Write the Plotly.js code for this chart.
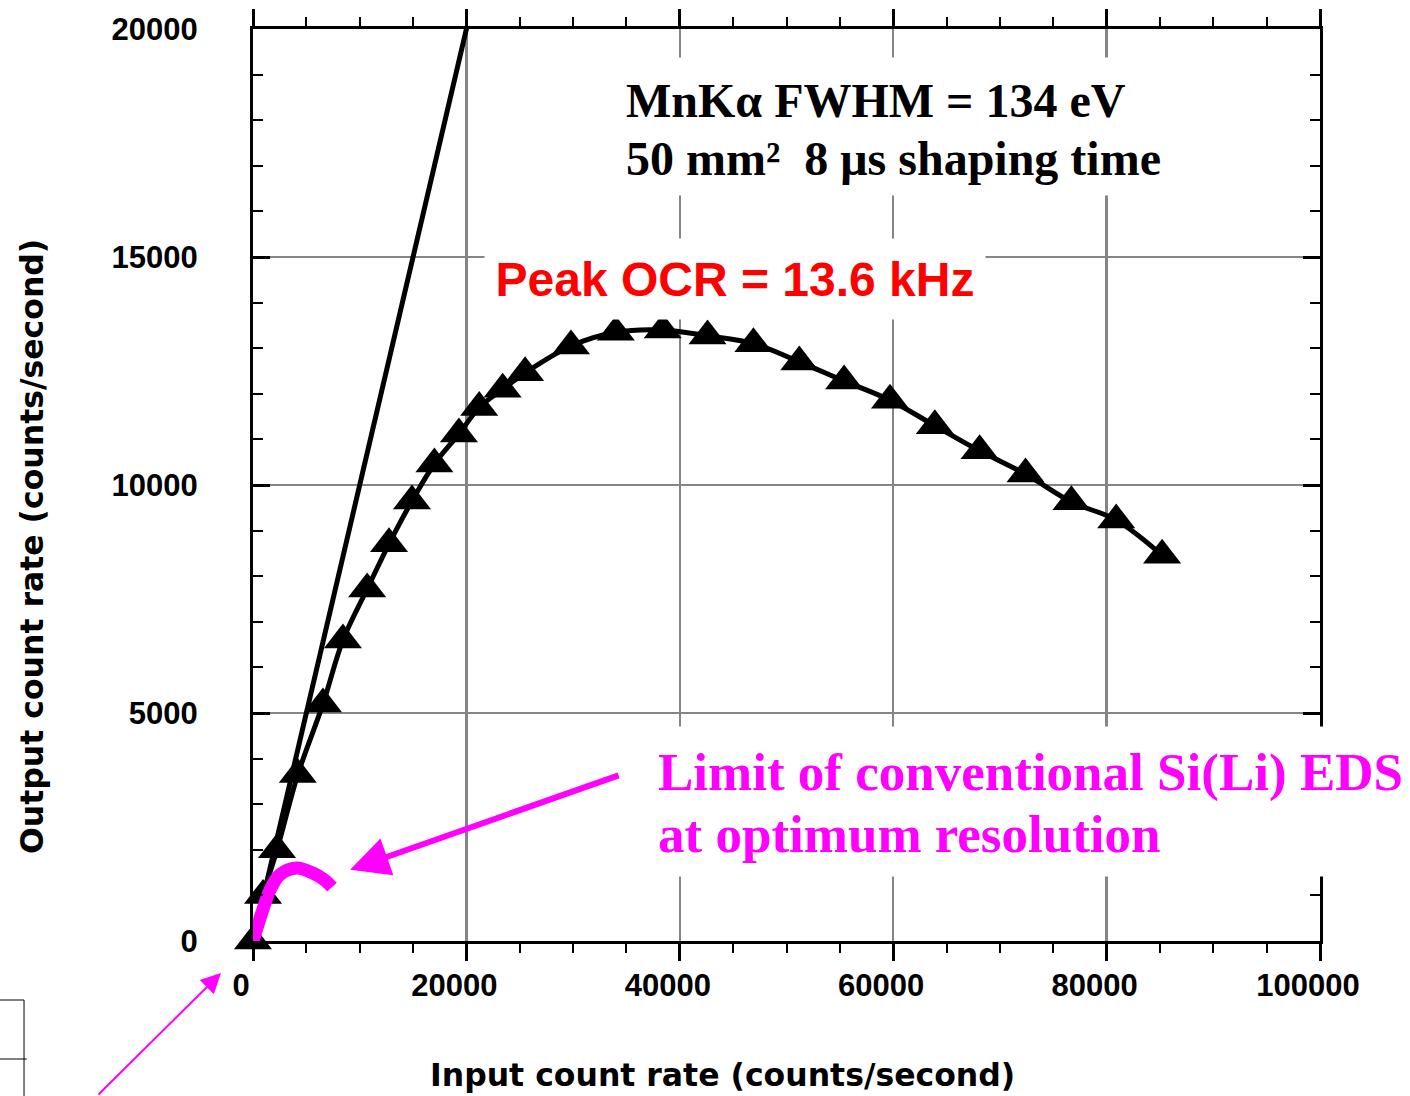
<!DOCTYPE html>
<html>
<head>
<meta charset="utf-8">
<script src="https://cdn.plot.ly/plotly-3.0.1.min.js"></script>
<style>html,body{margin:0;padding:0;background:#fff;}</style>
</head>
<body>
<div id="chart" style="width:1410px;height:1096px;"></div>
<script>
// Measured output vs input count rate (triangles)
const icr = [0, 940, 2250, 4200, 6560, 8430, 10700, 12750, 14900, 17000, 19300, 21200, 23400, 25500, 29800, 34000, 38400, 42600, 46900, 51200, 55400, 59700, 63900, 68100, 72400, 76700, 80900, 85200];
const ocr = [0, 1000, 2000, 3650, 5200, 6600, 7720, 8710, 9650, 10460, 11120, 11700, 12100, 12460, 13050, 13350, 13400, 13270, 13100, 12700, 12280, 11860, 11300, 10750, 10240, 9630, 9230, 8460];
// Ideal line OCR = ICR
const idealX = [0, 20400];
const idealY = [0, 20400];
// Limit of conventional Si(Li) EDS
const limitX = [0, 800, 1600, 2500, 4100, 5600, 6700, 7400];
const limitY = [0, 600, 1120, 1450, 1600, 1490, 1340, 1180];
// Axis ticks
const xTicks = [0, 20000, 40000, 60000, 80000, 100000];
const yTicks = [0, 5000, 10000, 15000, 20000];
// Axis titles
const xTitle = 'Input count rate (counts/second)';
const yTitle = 'Output count rate (counts/second)';

const sansB = {family: 'Liberation Sans, Arial, sans-serif', weight: 'bold', color: '#000'};
const serifB = {family: 'Liberation Serif, Times New Roman, serif', weight: 'bold'};
const titleFont = {family: 'DejaVu Sans', weight: 'bold', size: 31.5, color: '#000'};
const nb = '\u00a0';

const traces = [
  {x: idealX, y: idealY, type: 'scatter', mode: 'lines', line: {color: '#000', width: 5}, hoverinfo: 'skip', showlegend: false},
  {x: icr, y: ocr, type: 'scatter', mode: 'lines+markers', line: {color: '#000', width: 5, shape: 'spline'},
   marker: {symbol: 'triangle-up', size: 33, color: '#000'}, cliponaxis: false, showlegend: false},
  {x: limitX, y: limitY, type: 'scatter', mode: 'lines', line: {color: '#ff00ff', width: 13, shape: 'spline'}, showlegend: false}
];

const tickCommon = {tickwidth: 3, tickcolor: '#000'};
const gridCommon = {showgrid: true, gridcolor: '#858585', gridwidth: 2.5, griddash: 'solid', zeroline: false};
const layout = {
  width: 1410, height: 1096,
  margin: {l: 253, r: 90, t: 29, b: 155},
  paper_bgcolor: '#fff', plot_bgcolor: '#fff',
  showlegend: false,
  xaxis: Object.assign({
    range: [0, 100000], tickvals: xTicks, ticktext: xTicks.map(String),
    ticks: 'outside', ticklen: 17, showline: true, linewidth: 3, linecolor: '#000', mirror: 'allticks',
    minor: {dtick: 5000, tick0: 0, ticks: 'outside', ticklen: 9, tickwidth: 2, tickcolor: '#000', showgrid: false},
    tickfont: Object.assign({size: 31}, sansB), ticklabelshift: -12, ticklabelstandoff: -2,
    title: {text: ''}
  }, tickCommon, gridCommon),
  xaxis2: Object.assign({
    overlaying: 'x', anchor: 'y', side: 'bottom', range: [0, 100000], tickvals: xTicks,
    ticks: 'inside', ticklen: 17, mirror: 'ticks', showline: false, showgrid: false, zeroline: false, showticklabels: false
  }, tickCommon),
  yaxis: Object.assign({
    range: [0, 20000], tickvals: yTicks, ticktext: yTicks.map(String),
    ticks: 'inside', ticklen: 17, showline: true, linewidth: 3, linecolor: '#000', mirror: 'allticks',
    minor: {dtick: 1000, tick0: 0, ticks: 'inside', ticklen: 10, tickwidth: 2, tickcolor: '#000', showgrid: false},
    tickfont: Object.assign({size: 31}, sansB), ticklabelstandoff: 46,
    title: {text: ''}
  }, tickCommon, gridCommon),
  yaxis2: Object.assign({
    overlaying: 'y', anchor: 'x', side: 'left', range: [0, 20000], tickvals: yTicks,
    ticks: 'outside', ticklen: 18, mirror: 'ticks', showline: false, showgrid: false, zeroline: false, showticklabels: false
  }, tickCommon),
  annotations: [
    // axis titles
    {xref: 'paper', yref: 'paper', x: 0.4396, y: -0.1469, xanchor: 'center', yanchor: 'middle', showarrow: false,
     text: xTitle, font: titleFont},
    {xref: 'paper', yref: 'paper', x: -0.2071, y: 0.4320, xanchor: 'center', yanchor: 'middle', showarrow: false,
     textangle: -90, text: yTitle, font: titleFont},
    // white box behind MnKa text
    {xref: 'paper', yref: 'paper', x: 0.3346, y: 0.8931, xanchor: 'left', yanchor: 'middle', text: nb, showarrow: false,
     width: 575, height: 137, borderpad: 0, bgcolor: '#fff'},
    {xref: 'paper', yref: 'paper', x: 0.3486, y: 0.9213, xanchor: 'left', yanchor: 'middle', showarrow: false, borderpad: 0,
     text: 'MnK\u03b1 FWHM = 134 eV', font: Object.assign({size: 48, color: '#000'}, serifB)},
    {xref: 'paper', yref: 'paper', x: 0.3486, y: 0.8577, xanchor: 'left', yanchor: 'middle', showarrow: false, borderpad: 0,
     text: '50 mm\u00b2' + nb + nb + '8 \u03bcs shaping time', font: Object.assign({size: 48, color: '#000'}, serifB)},
    // Peak OCR
    {xref: 'paper', yref: 'paper', x: 0.4517, y: 0.7259, xanchor: 'center', yanchor: 'middle', showarrow: false, borderpad: 0,
     width: 500, height: 80, bgcolor: '#fff',
     text: 'Peak OCR = 13.6 kHz', font: {family: 'Liberation Sans, Arial, sans-serif', weight: 'bold', size: 48, color: '#ff0000'}},
    // Limit box + text
    {xref: 'paper', yref: 'paper', x: 0.3674, y: 0.1530, xanchor: 'left', yanchor: 'middle', text: nb, showarrow: false,
     width: 765, height: 149, borderpad: 0, bgcolor: '#fff'},
    {xref: 'paper', yref: 'paper', x: 0.3786, y: 0.1852, xanchor: 'left', yanchor: 'middle', showarrow: false, borderpad: 0,
     text: 'Limit of conventional Si(Li) EDS', font: Object.assign({size: 53, color: '#ff00ff'}, serifB)},
    {xref: 'paper', yref: 'paper', x: 0.3786, y: 0.1172, xanchor: 'left', yanchor: 'middle', showarrow: false, borderpad: 0,
     text: 'at optimum resolution', font: Object.assign({size: 53, color: '#ff00ff'}, serifB)},
    // arrows
    {xref: 'x', yref: 'y', x: 9100, y: 1560, ax: 270, ay: -95, text: '', showarrow: true,
     arrowhead: 2, arrowsize: 1.3, arrowwidth: 6, arrowcolor: '#ff00ff', standoff: 0},
    {xref: 'paper', yref: 'paper', x: -0.030, y: -0.0351, ax: -124, ay: 127, text: '', showarrow: true,
     arrowhead: 2, arrowsize: 2, arrowwidth: 2, arrowcolor: '#ff00ff', standoff: 0}
  ],
  shapes: [
    {type: 'line', xref: 'paper', yref: 'paper', x0: -0.2146, x1: -0.2146, y0: -0.0647, y1: -0.175, line: {color: '#000', width: 1}},
    {type: 'line', xref: 'paper', yref: 'paper', x0: -0.2371, x1: -0.2146, y0: -0.0647, y1: -0.0647, line: {color: '#000', width: 1}},
    {type: 'line', xref: 'paper', yref: 'paper', x0: -0.2371, x1: -0.2120, y0: -0.1294, y1: -0.1294, line: {color: '#000', width: 1}}
  ]
};

Plotly.newPlot('chart', traces, layout, {displayModeBar: false, staticPlot: true});
</script>
</body>
</html>
